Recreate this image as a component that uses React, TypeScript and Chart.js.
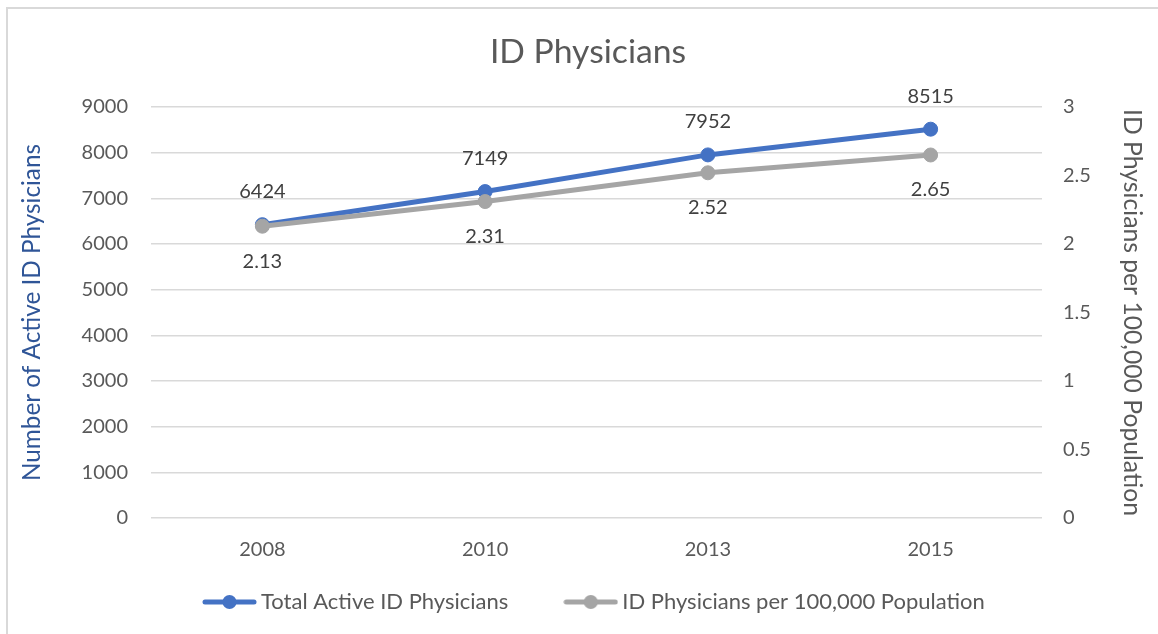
import React, { useEffect, useRef } from "react";
import { Chart, registerables } from "chart.js";

Chart.register(...registerables);

// ---- data ----
const categories = ["2008", "2010", "2013", "2015"];
const totalActive = [6424, 7149, 7952, 8515];
const perHundredThousand = [2.13, 2.31, 2.52, 2.65];
const seriesNames = ["Total Active ID Physicians", "ID Physicians per 100,000 Population"];
const chartTitle = "ID Physicians";
const leftAxisTitle = "Number of Active ID Physicians";
const rightAxisTitle = "ID Physicians per 100,000 Population";
const leftAxisRange = [0, 9000, 1000];
const rightAxisRange = [0, 3, 0.5];

// ---- style ----
const BLUE = "#4472C4";
const GRAY = "#A5A5A5";
const TEXT = "#595959";
const LABEL = "#404040";
const GRID = "#D9D9D9";
const FONT = "Lato";

function makeMarker(color: string) {
  const c = document.createElement("canvas");
  c.width = 55;
  c.height = 16;
  const ctx = c.getContext("2d")!;
  ctx.strokeStyle = color;
  ctx.lineWidth = 5;
  ctx.lineCap = "round";
  ctx.beginPath();
  ctx.moveTo(3, 8);
  ctx.lineTo(52, 8);
  ctx.stroke();
  ctx.fillStyle = color;
  ctx.beginPath();
  ctx.arc(27.5, 8, 7, 0, Math.PI * 2);
  ctx.fill();
  return c;
}

const dataLabelPlugin = {
  id: "dataLabels",
  afterDatasetsDraw(chart: any) {
    const ctx = chart.ctx;
    chart.data.datasets.forEach((ds: any, i: number) => {
      const meta = chart.getDatasetMeta(i);
      const above = i === 0;
      meta.data.forEach((pt: any, j: number) => {
        ctx.save();
        ctx.font = `20px ${FONT}`;
        ctx.fillStyle = LABEL;
        ctx.textAlign = "center";
        ctx.textBaseline = "middle";
        ctx.fillText(String(ds.data[j]), pt.x, pt.y + (above ? -33 : 35));
        ctx.restore();
      });
    });
  },
};

const placementPlugin = {
  id: "placement",
  afterLayout(chart: any) {
    const lg = chart.legend;
    if (lg) {
      lg.left += 147;
      lg.right = chart.width;
      lg.top = 529;
      lg.bottom = chart.height;
    }
    const tb = chart.titleBlock;
    if (tb) {
      tb.left += 9;
      tb.right += 9;
    }
  },
};

export default function App() {
  const ref = useRef<HTMLCanvasElement | null>(null);

  useEffect(() => {
    if (!ref.current) return;
    const markers = [makeMarker(BLUE), makeMarker(GRAY)];
    const chart = new Chart(ref.current, {
      type: "line",
      data: {
        labels: categories,
        datasets: [
          {
            label: seriesNames[0],
            data: totalActive,
            yAxisID: "y",
            borderColor: BLUE,
            backgroundColor: BLUE,
            borderWidth: 5,
            pointRadius: 7,
            pointBorderWidth: 1,
            pointBackgroundColor: BLUE,
            pointBorderColor: BLUE,
            tension: 0,
            order: 2,
          },
          {
            label: seriesNames[1],
            data: perHundredThousand,
            yAxisID: "y1",
            borderColor: GRAY,
            backgroundColor: GRAY,
            borderWidth: 5,
            pointRadius: 7,
            pointBorderWidth: 1,
            pointBackgroundColor: GRAY,
            pointBorderColor: GRAY,
            tension: 0,
            order: 1,
          },
        ],
      },
      options: {
        responsive: false,
        animation: false,
        events: [],
        layout: { padding: { left: 0, right: 0, top: 0, bottom: 12 } },
        scales: {
          x: {
            offset: true,
            grid: { display: false },
            border: { display: false },
            ticks: { color: TEXT, font: { family: FONT, size: 20 }, padding: 12 },
            afterFit: (s: any) => {
              s.height = 60;
            },
          },
          y: {
            position: "left",
            min: leftAxisRange[0],
            max: leftAxisRange[1],
            grid: { color: GRID, lineWidth: 1.5, drawTicks: false },
            border: { display: false },
            ticks: {
              stepSize: leftAxisRange[2],
              color: TEXT,
              font: { family: FONT, size: 20 },
              padding: 23,
              callback: (v: any) => String(v),
            },
            title: {
              display: true,
              text: leftAxisTitle,
              color: "#2F5597",
              font: { family: FONT, size: 24.3 },
              padding: { top: 17.5, bottom: 0 },
            },
            afterFit: (s: any) => {
              s.width = 151;
            },
          },
          y1: {
            position: "right",
            min: rightAxisRange[0],
            max: rightAxisRange[1],
            grid: { display: false, drawTicks: false },
            border: { display: false },
            ticks: {
              stepSize: rightAxisRange[2],
              color: TEXT,
              font: { family: FONT, size: 20 },
              padding: 21,
              callback: (v: any) => String(v),
            },
            title: {
              display: true,
              text: rightAxisTitle,
              color: TEXT,
              font: { family: FONT, size: 24.7 },
              padding: { top: 11, bottom: 0 },
            },
            afterFit: (s: any) => {
              s.width = 116;
            },
          },
        },
        plugins: {
          title: {
            display: true,
            text: chartTitle,
            color: TEXT,
            font: { family: FONT, size: 33.7, weight: "normal" },
            padding: { top: 31.8, bottom: 34.8 },
          },
          legend: {
            position: "bottom",
            align: "start",
            maxHeight: 44,
            labels: {
              usePointStyle: true,
              pointStyleWidth: 41,
              boxHeight: 16,
              padding: 62,
              color: TEXT,
              font: { family: FONT, size: 22 },
              generateLabels: (chart: any) =>
                chart.data.datasets.map((ds: any, i: number) => ({
                  text: ds.label,
                  pointStyle: markers[i],
                  fillStyle: ds.borderColor,
                  strokeStyle: ds.borderColor,
                  lineWidth: 0,
                  hidden: false,
                  datasetIndex: i,
                  fontColor: TEXT,
                })),
            },
          },
          tooltip: { enabled: false },
        },
      },
      plugins: [dataLabelPlugin, placementPlugin],
    } as any);
    return () => chart.destroy();
  }, []);

  return (
    <div style={{ position: "fixed", left: 0, top: 0, width: 1158, height: 634, background: "#fff" }}>
      <div
        style={{
          position: "absolute",
          left: 6,
          top: 7,
          right: 0,
          bottom: 0,
          borderTop: "2px solid #D9D9D9",
          borderLeft: "2px solid #D9D9D9",
        }}
      />
      <canvas ref={ref} width={1158} height={634} style={{ position: "absolute", left: 0, top: 0 }} />
    </div>
  );
}
